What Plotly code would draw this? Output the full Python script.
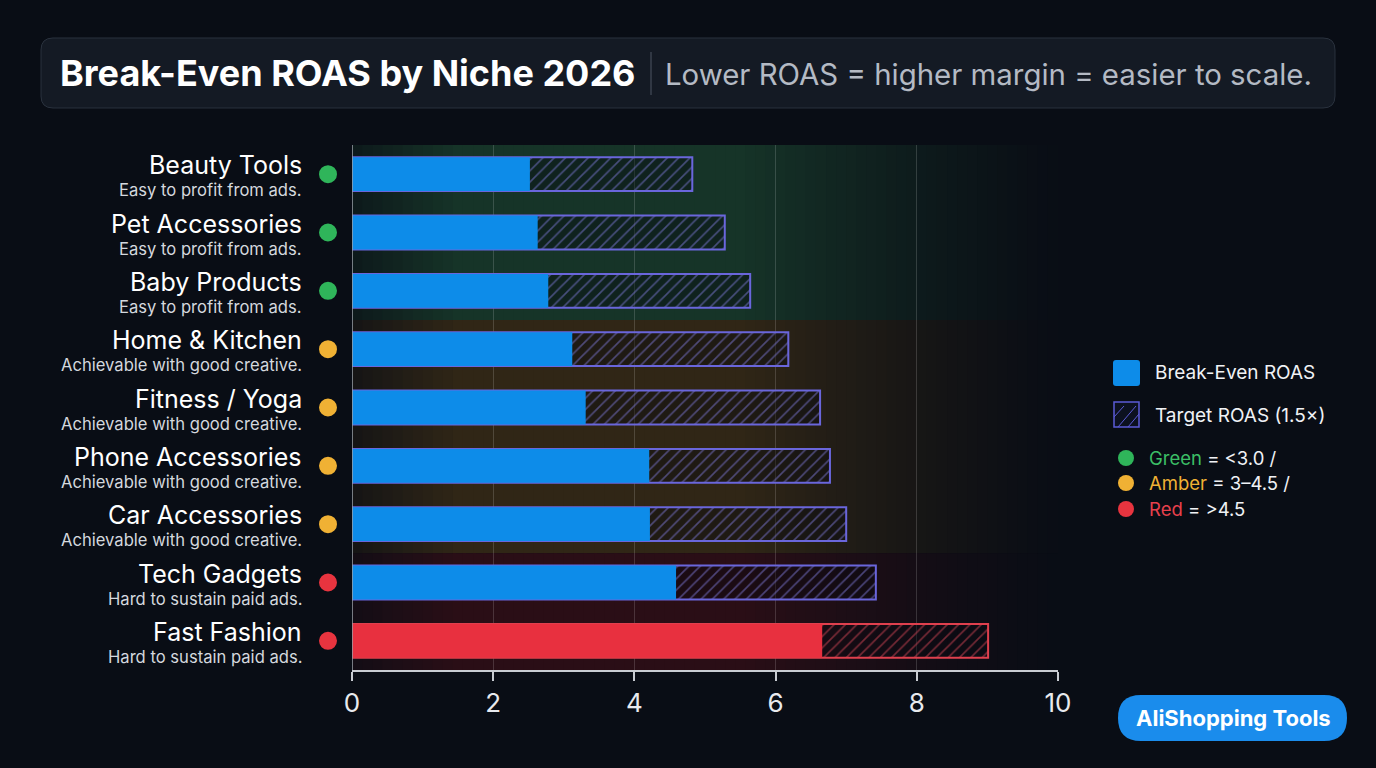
import plotly.graph_objects as go

niches = ["Beauty Tools", "Pet Accessories", "Baby Products", "Home & Kitchen",
          "Fitness / Yoga", "Phone Accessories", "Car Accessories", "Tech Gadgets",
          "Fast Fashion"]
notes = ["Easy to profit from ads.", "Easy to profit from ads.", "Easy to profit from ads.",
         "Achievable with good creative.", "Achievable with good creative.",
         "Achievable with good creative.", "Achievable with good creative.",
         "Hard to sustain paid ads.", "Hard to sustain paid ads."]
break_even = [2.52, 2.63, 2.78, 3.12, 3.31, 4.21, 4.22, 4.59, 6.66]
target = [4.82, 5.28, 5.64, 6.18, 6.63, 6.77, 7.0, 7.42, 9.01]
status = ["green", "green", "green", "amber", "amber", "amber", "amber", "red", "red"]
x_ticks = [0, 2, 4, 6, 8, 10]

BG = "#090d15"
BG_RGB = (9, 13, 21)
BLUE = "#0d8ce9"
RED = "#e8303f"
INDIGO = "#5b5bd6"
dot_col = {"green": "#2fb55a", "amber": "#f0b134", "red": "#e8343f"}

# plot area in pixels
L, R, T, B = 352, 1058, 145, 670
W, H = R - L, B - T


def px(x):
    return (x - L) / W


def py(y):
    return (B - y) / H


def rrect(x0, y0, x1, y1, r):
    # rounded rectangle path, pixel coords in, paper coords out
    def p(x, y):
        return f"{px(x):.5f},{py(y):.5f}"
    return (f"M {p(x0 + r, y0)} L {p(x1 - r, y0)} Q {p(x1, y0)} {p(x1, y0 + r)} "
            f"L {p(x1, y1 - r)} Q {p(x1, y1)} {p(x1 - r, y1)} L {p(x0 + r, y1)} "
            f"Q {p(x0, y1)} {p(x0, y1 - r)} L {p(x0, y0 + r)} Q {p(x0, y0)} {p(x0 + r, y0)} Z")


pos = list(range(len(niches)))
solid_colors = [RED if s == "red" and b > 6 else BLUE for s, b in zip(status, break_even)]
hatch_line = ["#e0404e" if c == RED else "#6a66dc" for c in solid_colors]
hatch_fg = ["#de4858" if c == RED else "#7f7bdc" for c in solid_colors]

fig = go.Figure()

# target bars (hatched), drawn underneath
fig.add_trace(go.Bar(
    y=pos, x=target, orientation="h", width=0.58,
    marker=dict(color="rgba(0,0,0,0)", line=dict(color=hatch_line, width=2),
                pattern=dict(shape="/", fgcolor=hatch_fg, bgcolor="rgba(6,8,14,0.4)",
                             size=8, solidity=0.2)),
    showlegend=False, hoverinfo="skip"))

# break-even bars on top
fig.add_trace(go.Bar(
    y=pos, x=break_even, orientation="h", width=0.58,
    marker=dict(color=solid_colors, line=dict(width=0)),
    showlegend=False, hoverinfo="skip"))

shapes = []

# tinted zones as opaque slabs: dark at the axis, full in the middle, fading right
zones = [(-0.5, 2.5, (22, 52, 40)), (2.5, 6.5, (48, 38, 22)), (6.5, 8.5, (42, 14, 22))]
n_sl = 70
step = 10 / n_sl
for y0, y1, top in zones:
    for i in range(n_sl):
        xm = step * (i + 0.5)
        if xm < 1.5:
            f = 0.3 + 0.7 * xm / 1.5
        elif xm < 5.5:
            f = 1.0
        else:
            f = max(0.0, 1 - (xm - 5.5) / 4.6) ** 1.3
        c = tuple(round(bg + f * (t - bg)) for bg, t in zip(BG_RGB, top))
        shapes.append(dict(type="rect", xref="x", yref="y", x0=step * i,
                           x1=min(step * (i + 1) + step * 0.3, 10), y0=y0, y1=y1,
                           line=dict(width=0), fillcolor=f"rgb{c}", layer="below"))

# left axis line
shapes.append(dict(type="line", xref="x", yref="paper", x0=0, x1=0, y0=0, y1=1,
                   line=dict(color="#9aa0a8", width=1.5)))

# status dots next to each niche
for i, s in zip(pos, status):
    shapes.append(dict(type="circle", xref="paper", yref="y", xsizemode="pixel",
                       ysizemode="pixel", xanchor=px(328), yanchor=i, x0=-9, x1=9,
                       y0=-9, y1=9, fillcolor=dot_col[s], line=dict(width=0)))

# title box
shapes.append(dict(type="path", xref="paper", yref="paper", path=rrect(41, 38, 1335, 108, 12),
                   fillcolor="#141a24", line=dict(color="#2a323e", width=1)))
shapes.append(dict(type="line", xref="paper", yref="paper", x0=px(651), x1=px(651),
                   y0=py(52), y1=py(95), line=dict(color="#3a424e", width=1.5)))

# legend swatches
shapes.append(dict(type="path", xref="paper", yref="paper", path=rrect(1113, 360, 1140, 386, 3),
                   fillcolor=BLUE, line=dict(width=0)))
shapes.append(dict(type="rect", xref="paper", yref="paper", x0=px(1114), x1=px(1139),
                   y0=py(402), y1=py(427), fillcolor="#0c1120", line=dict(color=INDIGO, width=1.5)))
for a0, a1 in [((1114, 417), (1124, 406)), ((1118, 427), (1136, 406)), ((1128, 427), (1139, 414))]:
    shapes.append(dict(type="line", xref="paper", yref="paper", x0=px(a0[0]), y0=py(a0[1]),
                       x1=px(a1[0]), y1=py(a1[1]), line=dict(color=INDIGO, width=1)))
for yy, key in zip([458, 483, 509], ["green", "amber", "red"]):
    shapes.append(dict(type="circle", xref="paper", yref="paper", x0=px(1118), x1=px(1134),
                       y0=py(yy - 8), y1=py(yy + 8), fillcolor=dot_col[key], line=dict(width=0)))

# brand button
shapes.append(dict(type="path", xref="paper", yref="paper", path=rrect(1118, 695, 1347, 741, 23),
                   fillcolor="#1a8cec", line=dict(width=0)))

annotations = []
annotations.append(dict(xref="paper", yref="paper", x=px(58), y=py(73), xanchor="left",
                        yanchor="middle", showarrow=False, text="<b>Break-Even ROAS by Niche 2026</b>",
                        font=dict(family="Inter", size=36, color="#ffffff")))
annotations.append(dict(xref="paper", yref="paper", x=px(663), y=py(74), xanchor="left",
                        yanchor="middle", showarrow=False,
                        text="Lower ROAS = higher margin = easier to scale.",
                        font=dict(family="Inter", size=29.4, color="#b4bac4")))

for i, (name, note) in enumerate(zip(niches, notes)):
    annotations.append(dict(xref="paper", yref="y", x=px(304), y=i, yshift=9,
                            xanchor="right", yanchor="middle", showarrow=False, text=name,
                            font=dict(family="Inter", size=25, color="#ffffff")))
    annotations.append(dict(xref="paper", yref="y", x=px(304), y=i, yshift=-16,
                            xanchor="right", yanchor="middle", showarrow=False, text=note,
                            font=dict(family="Inter", size=16.6, color="#d4d8de")))

legend_txt = [
    (372, "Break-Even ROAS"),
    (415, "Target ROAS (1.5×)"),
    (458, "<span style='color:#3cbf66'>Green</span> = &lt;3.0 /"),
    (483, "<span style='color:#f0b134'>Amber</span> = 3–4.5 /"),
    (509, "<span style='color:#e8404c'>Red</span> = &gt;4.5"),
]
for yy, t in legend_txt:
    xx = 1153 if yy < 440 else 1147
    annotations.append(dict(xref="paper", yref="paper", x=px(xx), y=py(yy), xanchor="left",
                            yanchor="middle", showarrow=False, text=t,
                            font=dict(family="Inter", size=19 if yy < 440 else 18.5,
                                      color="#f0f2f5")))

annotations.append(dict(xref="paper", yref="paper", x=px(1233), y=py(718), xanchor="center",
                        yanchor="middle", showarrow=False, text="<b>AliShopping Tools</b>",
                        font=dict(family="Inter", size=22, color="#ffffff")))

fig.update_layout(
    width=1376, height=768,
    margin=dict(l=L, r=1376 - R, t=T, b=768 - B, pad=0),
    paper_bgcolor=BG, plot_bgcolor=BG,
    barmode="overlay", bargap=0.42,
    font=dict(family="Inter", color="#ffffff"),
    shapes=shapes, annotations=annotations,
    xaxis=dict(range=[0, 10], tickvals=x_ticks, showgrid=True,
               gridcolor="rgba(255,255,255,0.16)", gridwidth=1, zeroline=False,
               showline=True, linecolor="#c8ccd2", linewidth=1.5,
               ticks="outside", ticklen=9, tickcolor="#c8ccd2", tickwidth=1.5,
               tickfont=dict(family="Inter", size=26, color="#e8eaee")),
    yaxis=dict(range=[8.5, -0.5], showticklabels=False, showgrid=False, zeroline=False,
               showline=False),
)

fig.write_html("out.html", config={"displayModeBar": False},
               post_script="document.body.style.margin='0';document.body.style.background='#090d15';")
